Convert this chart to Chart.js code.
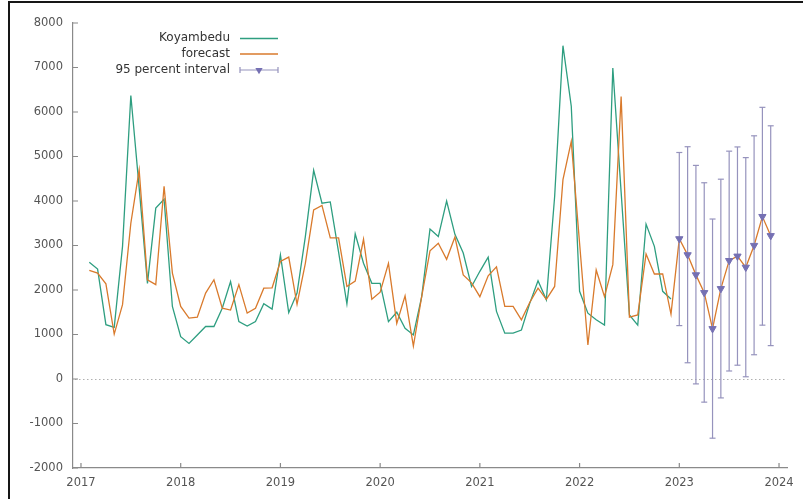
<!DOCTYPE html>
<html>
<head>
<meta charset="utf-8">
<script src="https://cdn.jsdelivr.net/npm/chart.js@4/dist/chart.umd.min.js"></script>
<style>
  html, body { margin: 0; padding: 0; background: #fff; }
  #wrap { position: relative; width: 803px; height: 499px; overflow: hidden; background: #fff; }
  #wrap canvas { position: absolute; left: 0; top: 0; }
  #frame { position: absolute; left: 8px; top: 1px; right: -10px; bottom: -10px;
           border-left: 2px solid #161616; border-top: 2px solid #161616; pointer-events: none; }
</style>
</head>
<body>
<div id="wrap">
  <canvas id="chart" width="803" height="499"></canvas>
  <div id="frame"></div>
</div>
<script>
// Monthly series, first observation 2017:02
const firstYear = 2017;
const firstMonth = 2;

// Observed Koyambedu values, 2017:02 - 2022:12
const koyambedu = [
  2625, 2470, 1220, 1160, 2980, 6370, 4300, 2150, 3840, 4040, 1630,
  950, 800, 990, 1180, 1180, 1590, 2190, 1290, 1190, 1290, 1690, 1570,
  2790, 1490, 1930, 3200, 4690, 3950, 3980, 2850, 1690, 3260, 2600, 2150,
  2150, 1290, 1500, 1140, 990, 1850, 3370, 3200, 4000, 3250, 2830, 2080,
  2420, 2740, 1520, 1030, 1030, 1100, 1700, 2210, 1780, 4100, 7490, 6130,
  1970, 1480, 1330, 1210, 6990, 4200, 1440, 1210, 3480, 2980, 1970, 1800
];

// Fitted values and forecast, 2017:02 - 2023:12
const forecast = [
  2440, 2380, 2140, 1010, 1670, 3500, 4700, 2230, 2120, 4330, 2380,
  1630, 1370, 1390, 1930, 2230, 1590, 1550, 2120, 1480, 1590, 2040, 2050,
  2640, 2740, 1680, 2600, 3800, 3900, 3170, 3170, 2080, 2200, 3140, 1790,
  1950, 2600, 1250, 1870, 740, 1850, 2880, 3050, 2690, 3190, 2340, 2160,
  1850, 2320, 2520, 1630, 1630, 1330, 1720, 2040, 1790, 2080, 4480, 5340,
  3050, 765, 2450, 1850, 2570, 6350, 1390, 1440, 2810, 2360, 2360, 1460,
  3150, 2790, 2340, 1940, 1130, 2030, 2660, 2760, 2510, 3000, 3650, 3220
];

// 95 percent interval bounds, 2023:01 - 2023:12
const intervalLow  = [1200, 365, -110, -520, -1330, -425, 180, 310, 50, 545, 1210, 750];
const intervalHigh = [5090, 5220, 4800, 4410, 3595, 4490, 5120, 5215, 4975, 5465, 6105, 5690];

// Axis tick labels
const yearTicks = [2017, 2018, 2019, 2020, 2021, 2022, 2023, 2024];
const valueTicks = [-2000, -1000, 0, 1000, 2000, 3000, 4000, 5000, 6000, 7000, 8000];

// Series names
const seriesNames = ['Koyambedu', 'forecast', '95 percent interval'];

const COL_OBS = '#2e9e80';
const COL_FC = '#d97a2c';
const COL_BAR = '#9693bd';
const COL_TRI = '#7570b3';
const COL_AXIS = '#8a8a8a';

// decimal date of the n-th monthly observation
const t = n => firstYear + (firstMonth - 1 + n) / 12;

const obsPoints = koyambedu.map((v, n) => ({ x: t(n), y: v }));
const fcPoints = forecast.map((v, n) => ({ x: t(n), y: v }));
const fcStart = forecast.length - intervalLow.length;
const midPoints = intervalLow.map((_, k) => ({ x: t(fcStart + k), y: forecast[fcStart + k] }));
const lowPoints = intervalLow.map((v, k) => ({ x: t(fcStart + k), y: v }));
const highPoints = intervalHigh.map((v, k) => ({ x: t(fcStart + k), y: v }));
const whiskers = [];
intervalLow.forEach((lo, k) => {
  const x = t(fcStart + k);
  whiskers.push({ x, y: lo }, { x, y: intervalHigh[k] }, { x, y: null });
});

// inward tick marks and the dotted zero line
const axisDecor = {
  id: 'axisDecor',
  beforeDatasetsDraw(chart) {
    const { ctx, chartArea: a, scales: { x, y } } = chart;
    ctx.save();
    ctx.strokeStyle = '#b0b0b0';
    ctx.lineWidth = 1;
    ctx.setLineDash([1.5, 2.5]);
    const y0 = Math.round(y.getPixelForValue(0)) + 0.5;
    ctx.beginPath();
    ctx.moveTo(a.left + 2, y0);
    ctx.lineTo(a.right, y0);
    ctx.stroke();
    ctx.setLineDash([]);
    ctx.strokeStyle = COL_AXIS;
    ctx.lineWidth = 1.2;
    ctx.beginPath();
    y.ticks.forEach(tk => {
      const py = y.getPixelForValue(tk.value);
      ctx.moveTo(a.left, py);
      ctx.lineTo(a.left + 5, py);
    });
    x.ticks.forEach(tk => {
      const px = x.getPixelForValue(tk.value);
      ctx.moveTo(px, a.bottom);
      ctx.lineTo(px, a.bottom - 5);
    });
    ctx.stroke();
    ctx.restore();
  }
};

// key in the upper left: right-aligned names with samples to their right
const keyBox = {
  id: 'keyBox',
  afterDraw(chart) {
    const ctx = chart.ctx;
    const textRight = 230, s0 = 240, s1 = 278;
    const rows = [38, 53.5, 69.5];
    ctx.save();
    ctx.font = '12px "DejaVu Sans", sans-serif';
    ctx.fillStyle = '#333';
    ctx.textAlign = 'right';
    ctx.textBaseline = 'middle';
    seriesNames.forEach((name, k) => ctx.fillText(name, textRight, rows[k]));
    ctx.lineWidth = 1.3;
    ctx.strokeStyle = COL_OBS;
    ctx.beginPath(); ctx.moveTo(s0, rows[0] + 0.5); ctx.lineTo(s1, rows[0] + 0.5); ctx.stroke();
    ctx.strokeStyle = COL_FC;
    ctx.beginPath(); ctx.moveTo(s0, rows[1] + 0.5); ctx.lineTo(s1, rows[1] + 0.5); ctx.stroke();
    const yb = rows[2] + 0.5;
    ctx.strokeStyle = COL_BAR;
    ctx.lineWidth = 1.2;
    ctx.beginPath();
    ctx.moveTo(s0, yb); ctx.lineTo(s1, yb);
    ctx.moveTo(s0, yb - 3); ctx.lineTo(s0, yb + 3);
    ctx.moveTo(s1, yb - 3); ctx.lineTo(s1, yb + 3);
    ctx.stroke();
    const cx = (s0 + s1) / 2, r = 4.2;
    ctx.fillStyle = COL_TRI;
    ctx.beginPath();
    ctx.moveTo(cx, yb + r);
    ctx.lineTo(cx - 0.866 * r, yb - 0.5 * r);
    ctx.lineTo(cx + 0.866 * r, yb - 0.5 * r);
    ctx.closePath();
    ctx.fill();
    ctx.restore();
  }
};

Chart.defaults.font.family = '"DejaVu Sans", sans-serif';

new Chart(document.getElementById('chart'), {
  type: 'line',
  data: {
    datasets: [
      { label: seriesNames[0], data: obsPoints, borderColor: COL_OBS, borderWidth: 1.3,
        pointRadius: 0, tension: 0, order: 4 },
      { label: seriesNames[1], data: fcPoints, borderColor: COL_FC, borderWidth: 1.3,
        pointRadius: 0, tension: 0, order: 3 },
      { label: seriesNames[2], data: whiskers, borderColor: COL_BAR, borderWidth: 1.2,
        pointRadius: 0, spanGaps: false, order: 2 },
      { label: 'low', data: lowPoints, showLine: false, pointStyle: 'line', pointRadius: 3,
        pointBorderColor: COL_BAR, pointBorderWidth: 1.2, order: 2 },
      { label: 'high', data: highPoints, showLine: false, pointStyle: 'line', pointRadius: 3,
        pointBorderColor: COL_BAR, pointBorderWidth: 1.2, order: 2 },
      { label: 'point', data: midPoints, showLine: false, pointStyle: 'triangle', pointRotation: 180,
        pointRadius: 4.2, pointBackgroundColor: COL_TRI, pointBorderColor: COL_TRI,
        pointBorderWidth: 1, order: 1 }
    ]
  },
  options: {
    responsive: false,
    animation: false,
    events: [],
    layout: { padding: { left: 0, right: 16, top: 23, bottom: 0 } },
    plugins: { legend: { display: false }, tooltip: { enabled: false } },
    scales: {
      x: {
        type: 'linear',
        bounds: 'data',
        min: 2016.92,
        max: 2024.08,
        afterBuildTicks: s => { s.ticks = yearTicks.map(v => ({ value: v })); },
        afterFit: s => { s.height = 31; },
        grid: { display: false, drawTicks: false },
        border: { display: true, color: COL_AXIS, width: 1.2 },
        ticks: { color: '#555', font: { size: 11.5 }, padding: 8, maxRotation: 0,
                 autoSkip: false, callback: v => String(v) }
      },
      y: {
        type: 'linear',
        bounds: 'data',
        min: -2000,
        max: 8000,
        afterBuildTicks: s => { s.ticks = valueTicks.map(v => ({ value: v })); },
        afterFit: s => { s.width = 73; },
        grid: { display: false, drawTicks: false },
        border: { display: true, color: COL_AXIS, width: 1.2 },
        ticks: { color: '#555', font: { size: 11.5 }, padding: 10, autoSkip: false,
                 callback: v => String(v) }
      }
    }
  },
  plugins: [axisDecor, keyBox]
});
</script>
</body>
</html>
